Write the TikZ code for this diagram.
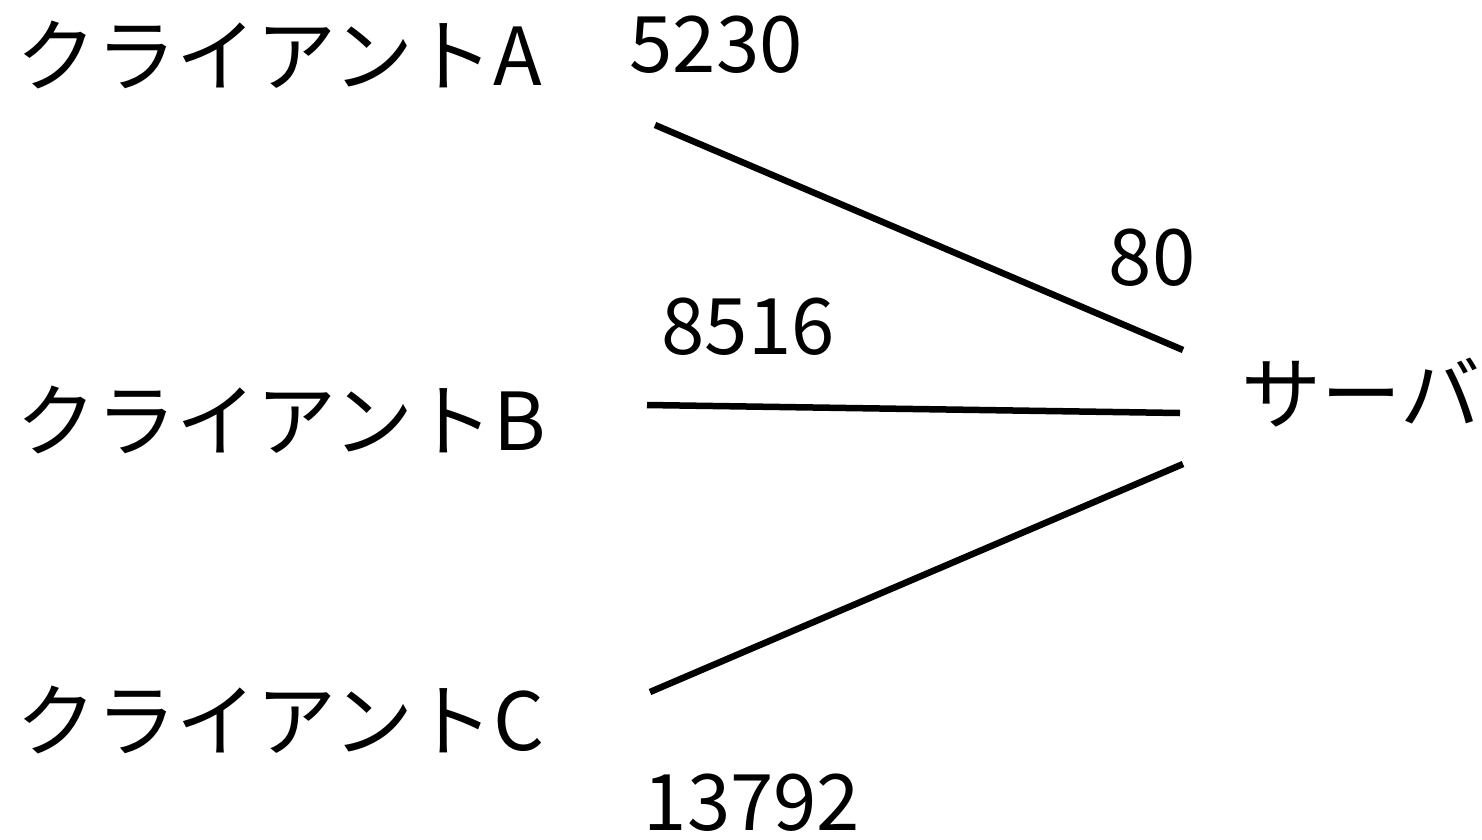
\documentclass[tikz,border=0pt]{standalone}
\usepackage{fontspec}
\setmainfont{Noto Sans CJK JP}
\begin{document}
\begin{tikzpicture}[x=1pt,y=-1pt,
  lbl/.style={font=\fontsize{80}{86}\selectfont, inner sep=0pt},
  port/.style={font=\fontsize{78}{84}\selectfont, inner sep=0pt},
  link/.style={line width=6.5pt}]
\useasboundingbox (0,0) rectangle (1482,839);
% hosts
\node[lbl, anchor=west] (ca) at (16,55) {クライアントA};
\node[lbl, anchor=west] (cb) at (16,420) {クライアントB};
\node[lbl, anchor=west] (cc) at (16,720) {クライアントC};
\node[lbl, anchor=west] (srv) at (1241,393) {サーバ};
% port numbers
\node[port] (pa) at (716,45) {5230};
\node[port] (pb) at (748,327) {8516};
\node[port] (pc) at (752,803) {13792};
\node[port] (ps) at (1152,258) {80};
% connection end points
\coordinate (a1) at (655,125);
\coordinate (a2) at (1183,350);
\coordinate (b1) at (647,405);
\coordinate (b2) at (1180,413);
\coordinate (c1) at (650,692);
\coordinate (c2) at (1183,464);
\draw[link] (a1) -- (a2);
\draw[link] (b1) -- (b2);
\draw[link] (c1) -- (c2);
\end{tikzpicture}
\end{document}
